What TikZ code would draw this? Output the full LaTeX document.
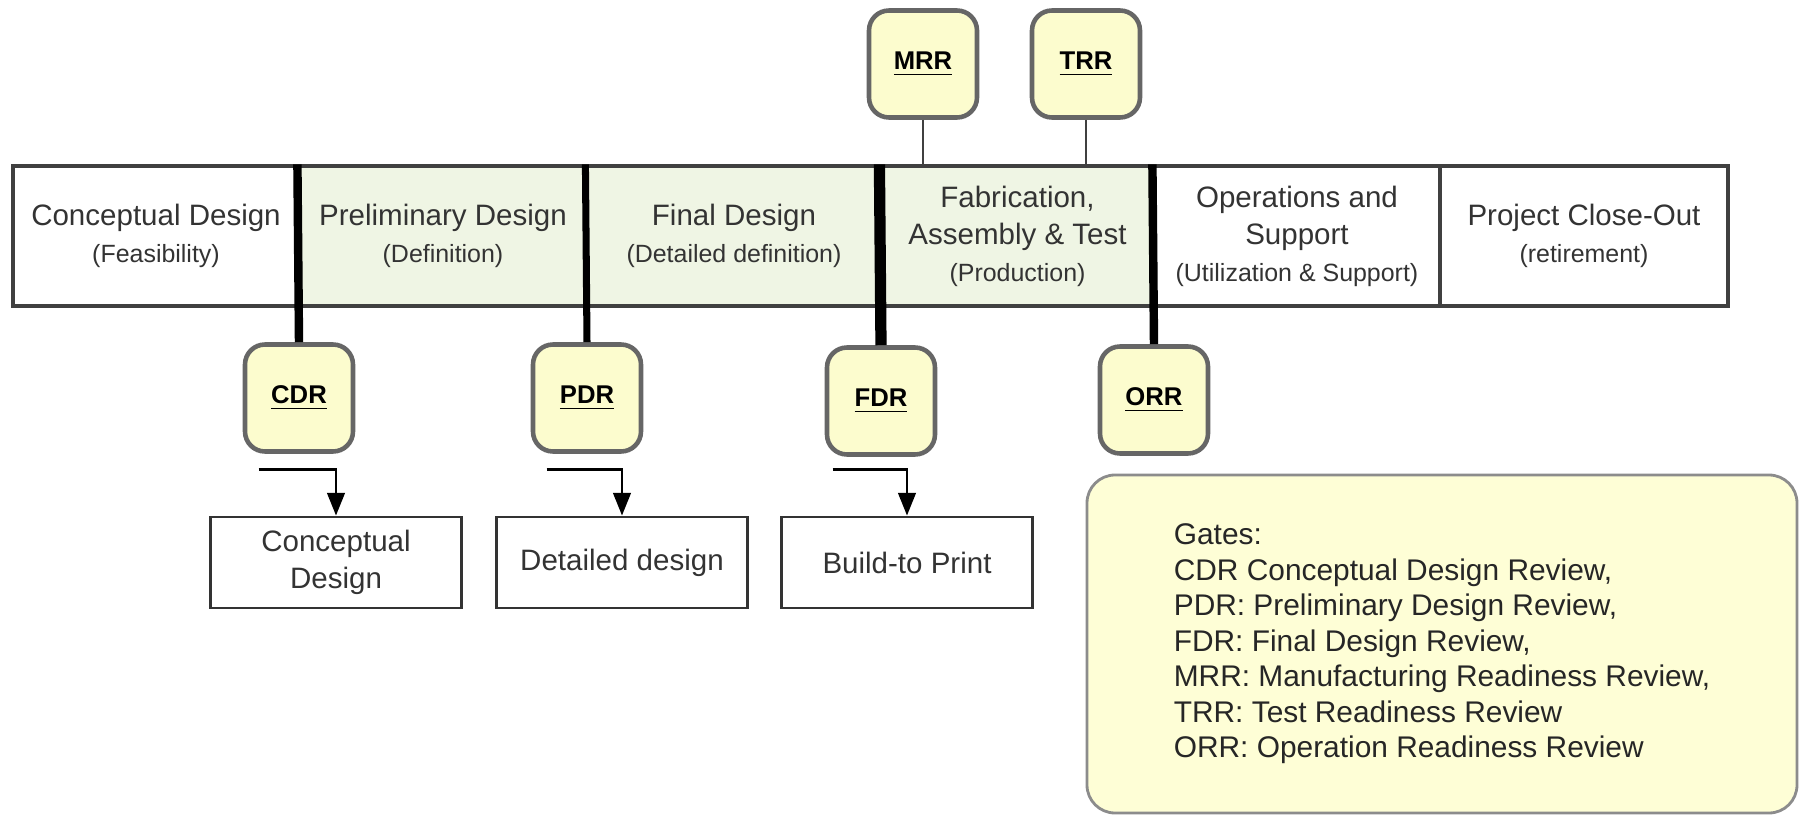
\documentclass[tikz,border=0pt]{standalone}
\usepackage{fontspec}
\setmainfont{Liberation Sans}
\usetikzlibrary{arrows.meta,positioning}

\definecolor{phasegreen}{RGB}{239,245,228}
\definecolor{gateyellow}{RGB}{252,252,206}
\definecolor{notecream}{RGB}{254,254,214}
\newcommand{\phsub}[1]{{\fontsize{7.1}{9}\selectfont #1}}

\begin{document}
\begin{tikzpicture}[
  phase/.style={draw=black!75, line width=0.9pt, minimum height=1.40cm, inner sep=0pt,
    align=center, font=\fontsize{8.4}{10.5}\selectfont, text=black!80},
  gate/.style={draw=black!60, line width=1.3pt, fill=gateyellow, rounded corners=0.2cm,
    minimum width=1.08cm, minimum height=1.07cm, font=\bfseries\fontsize{7.3}{9}\selectfont},
  doc/.style={draw=black!80, line width=0.8pt, minimum width=2.51cm, minimum height=0.91cm,
    align=center, font=\fontsize{8.4}{10.5}\selectfont, text=black!80},
  gateline/.style={line width=2.4pt},
  tieline/.style={draw=black!75, line width=0.8pt},
  >={Triangle[length=6.5pt,width=5pt]}
]
  \useasboundingbox (0,0) rectangle (18,8.16);

  % life-cycle phases
  \node[phase, minimum width=2.86cm] (concept) at (1.56,5.80)
      {Conceptual Design\\\phsub{(Feasibility)}};
  \node[phase, fill=phasegreen, minimum width=2.88cm] (prelim) at (4.43,5.80)
      {Preliminary Design\\\phsub{(Definition)}};
  \node[phase, fill=phasegreen, minimum width=2.94cm] (final) at (7.34,5.80)
      {Final Design\\\phsub{(Detailed definition)}};
  \node[phase, fill=phasegreen, minimum width=2.73cm] (fab) at (10.175,5.80)
      {Fabrication,\\Assembly \& Test\\\phsub{(Production)}};
  \node[phase, minimum width=2.86cm] (ops) at (12.97,5.80)
      {Operations and\\Support\\\phsub{(Utilization \& Support)}};
  \node[phase, minimum width=2.88cm] (close) at (15.84,5.80)
      {Project Close-Out\\\phsub{(retirement)}};

  % review gates
  \node[gate] (cdr) at (2.99,4.18)  {\underline{CDR}};
  \node[gate] (pdr) at (5.87,4.18)  {\underline{PDR}};
  \node[gate] (fdr) at (8.81,4.15)  {\underline{FDR}};
  \node[gate] (orr) at (11.54,4.16) {\underline{ORR}};
  \node[gate] (mrr) at (9.23,7.52)  {\underline{MRR}};
  \node[gate] (trr) at (10.86,7.52) {\underline{TRR}};

  \draw[gateline] (prelim.north west) -- (cdr.north);
  \draw[gateline, line width=2pt] (final.north west) -- (pdr.north);
  \draw[gateline, line width=3.2pt] (fab.north west) -- (fdr.north);
  \draw[gateline] (ops.north west) -- (orr.north);
  \draw[tieline] (mrr.south) -- (mrr.south |- fab.north);
  \draw[tieline] (trr.south) -- (trr.south |- fab.north);

  % outputs of the gates
  \node[doc] (conceptdoc) at (3.36,2.535) {Conceptual\\Design};
  \node[doc] (detaildoc)  at (6.22,2.535) {Detailed design};
  \node[doc] (builddoc)   at (9.07,2.535) {Build-to Print};

  \draw[->, line width=0.8pt] ([xshift=0.16cm,yshift=-0.16cm]cdr.south west) -| (conceptdoc.north);
  \draw[->, line width=0.8pt] ([xshift=0.16cm,yshift=-0.16cm]pdr.south west) -| (detaildoc.north);
  \draw[->, line width=0.8pt] ([xshift=0.08cm,yshift=-0.13cm]fdr.south west) -| (builddoc.north);

  % legend
  \node[draw=black!45, line width=0.8pt, fill=notecream, rounded corners=0.28cm,
        minimum width=7.1cm, minimum height=3.38cm, align=left,
        font=\fontsize{8.5}{10.1}\selectfont, text=black!85] (gates) at (14.42,1.72)
      {Gates:\\CDR Conceptual Design Review,\\PDR: Preliminary Design Review,\\
       FDR: Final Design Review,\\MRR: Manufacturing Readiness Review,\\
       TRR: Test Readiness Review\\ORR: Operation Readiness Review};
\end{tikzpicture}
\end{document}
